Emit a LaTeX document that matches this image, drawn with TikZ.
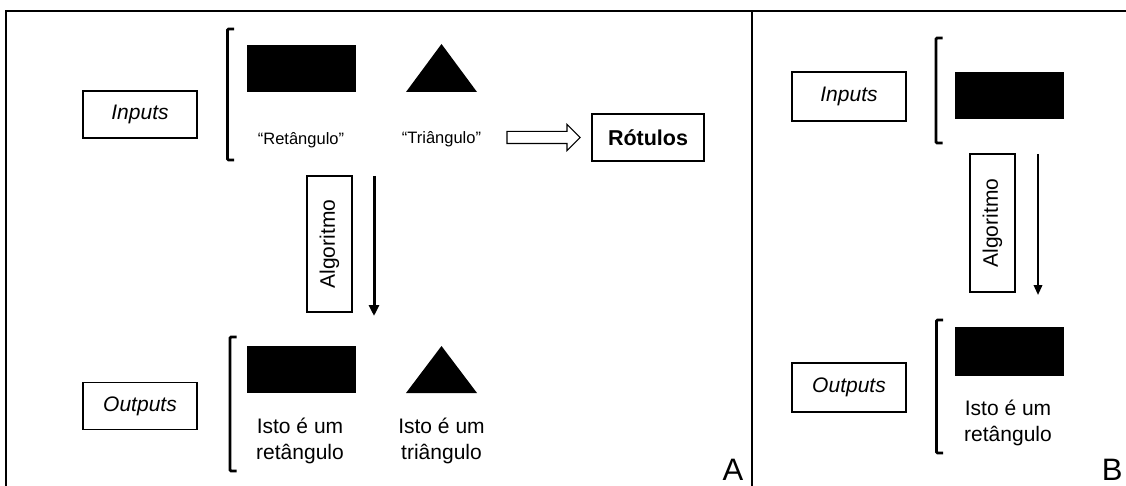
\documentclass[tikz,border=0pt]{standalone}
\usepackage{fontspec}
\setmainfont{Liberation Sans}
\usepackage{tikz}
\usetikzlibrary{arrows.meta, positioning, shapes.arrows}

% square bracket that groups a row of shapes: x, top y, bottom y
\newcommand{\grpbracket}[3]{%
  \draw[line width=2.8pt, rounded corners=1.2pt] (#1+6.5,#2) -- (#1,#2) -- (#1,#3) -- (#1+6.5,#3);}

\begin{document}
\begin{tikzpicture}[
    x=1pt, y=-1pt,
    tag/.style={rectangle, draw, line width=1.1pt, minimum width=114pt, minimum height=47pt, inner sep=0pt, font=\fontsize{21}{25}\selectfont\itshape},
    blk/.style={rectangle, fill=black, minimum width=109pt, minimum height=47pt, inner sep=0pt},
    quote/.style={inner sep=0pt, font=\fontsize{16.5}{20}\selectfont},
    res/.style={inner sep=0pt, align=center, font=\fontsize{21}{26}\selectfont},
    algo/.style={rectangle, draw, line width=1.1pt, rotate=90, minimum height=45pt, inner sep=0pt, font=\fontsize{21}{25}\selectfont},
    flow/.style={-{Triangle[length=11pt, width=10pt]}, line width=3pt},
    hollow/.style={single arrow, draw, line width=1.1pt, minimum height=73pt, inner xsep=0pt, inner ysep=5.5pt, single arrow head extend=7pt},
    panel/.style={font=\fontsize{31}{36}\selectfont}
]
\useasboundingbox (0,0) rectangle (1126,486);

% frame
\draw[line width=1.5pt] (6,486) -- (6,11) -- (1126,11);
\draw[line width=1.5pt] (752,11) -- (752,486);

% ---- panel A ----
\node[tag] (inA) at (140,114.5) {Inputs};
\node[tag] (outA) at (140,406) {Outputs};
\grpbracket{227.5}{29}{160}
\grpbracket{230}{337}{471}

\node[blk] (rectInA) at (301.5,68.5) {};
\fill (406,92) -- (441.5,44) -- (477,92) -- cycle;
\node[quote] (retLbl) at (301,140) {“Retângulo”};
\node[quote] (triLbl) at (441.5,139) {“Triângulo”};

\node[rectangle, draw, line width=1.1pt, minimum width=112pt, minimum height=47pt, inner sep=0pt, font=\fontsize{21.5}{25}\selectfont\bfseries] (rotulos) at (648,137.5) {Rótulos};
\node[hollow] (labArrow) at (540.5,137.5) {};

\node[algo, minimum width=136pt] (algA) at (329.5,244) {Algoritmo};
\coordinate (fromA) at (374,176);
\coordinate (toA) at (374,316);
\draw[flow] (fromA) -- (toA);

\node[blk] (rectOutA) at (301.5,369.5) {};
\fill (406,393) -- (441.5,346) -- (477,393) -- cycle;
\node[res] (retOutA) at (300,441) {Isto é um\\retângulo};
\node[res] (triOutA) at (441.5,441) {Isto é um\\triângulo};

\node[panel] (lblA) at (733,470) {A};

% ---- panel B ----
\node[tag, minimum height=49pt] (inB) at (849,96.5) {Inputs};
\node[tag, minimum height=49pt] (outB) at (849,387.5) {Outputs};
\grpbracket{936}{38}{143}
\grpbracket{936.5}{320}{453}

\node[blk] (rectInB) at (1009.5,95.5) {};
\node[algo, minimum width=138pt] (algB) at (992.5,223) {Algoritmo};
\coordinate (fromB) at (1038,154);
\coordinate (toB) at (1038,295);
\draw[flow, line width=2pt, -{Triangle[length=10pt, width=8.5pt]}] (fromB) -- (toB);

\node[blk, minimum height=49pt] (rectOutB) at (1009.5,351.5) {};
\node[res] (retOutB) at (1008,423) {Isto é um\\retângulo};

\node[panel, anchor=east] (lblB) at (1126,470) {B};

\end{tikzpicture}
\end{document}
